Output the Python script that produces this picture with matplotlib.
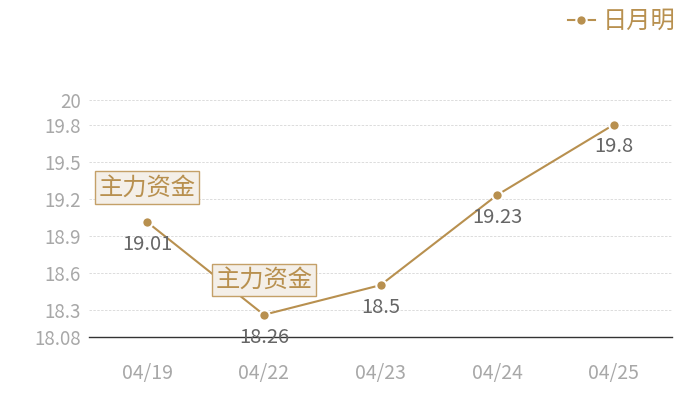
import matplotlib
matplotlib.use("Agg")
import matplotlib.pyplot as plt

plt.rcParams['font.family'] = ['Noto Sans CJK SC', 'DejaVu Sans']

dates = ["04/19", "04/22", "04/23", "04/24", "04/25"]
prices = [19.01, 18.26, 18.5, 19.23, 19.8]
flags = ["主力资金", "主力资金", "", "", ""]
yticks = [18.08, 18.3, 18.6, 18.9, 19.2, 19.5, 19.8, 20]
series_name = "日月明"

gold = "#b8904f"
grey_tick = "#a8a8a8"
grey_val = "#666666"

fig = plt.figure(figsize=(7, 4), dpi=100)
ax = fig.add_axes([89 / 700, 63 / 400, (672 - 89) / 700, (337 - 100) / 400])

x = list(range(len(dates)))
line, = ax.plot(x, prices, color=gold, lw=1.5, marker="o", ms=7.5,
                mfc=gold, mec="white", mew=1.5, label=series_name, zorder=3)

for i, (v, f) in enumerate(zip(prices, flags)):
    ax.annotate(f"{v:g}", (i, v), xytext=(0, -16), textcoords="offset points",
                ha="center", va="center", fontsize=14.5, color=grey_val, zorder=4)
    if f:
        ax.annotate(f, (i, v), xytext=(0, 25), textcoords="offset points",
                    ha="center", va="center", fontsize=17.5, color=gold, zorder=5,
                    bbox=dict(boxstyle="square,pad=0.14", fc="#f4efe8", ec="#c4a068", lw=1))

ax.set_xlim(-0.5, len(dates) - 0.5)
ax.set_ylim(18.08, 20)
ax.set_xticks(x)
ax.set_xticklabels(dates)
ax.set_yticks(yticks)
ax.set_yticklabels([f"{t:g}" for t in yticks])
ax.tick_params(axis="x", length=0, pad=19, labelsize=14, labelcolor=grey_tick)
ax.tick_params(axis="y", length=0, pad=6, labelsize=13.5, labelcolor=grey_tick)
ax.grid(axis="y", color="#dcdcdc", ls=(0, (2.5, 1.5)), lw=0.7)
ax.set_axisbelow(True)
for s in ["top", "right", "left"]:
    ax.spines[s].set_visible(False)
ax.spines["bottom"].set_color("#333333")
ax.spines["bottom"].set_linewidth(1)

leg = fig.legend(handles=[line], loc="upper right", bbox_to_anchor=(0.983, 1.01),
                 frameon=False, fontsize=17.5, handlelength=1.1, handletextpad=0.35,
                 borderaxespad=0.1)
for t in leg.get_texts():
    t.set_color(gold)

fig.savefig("out.png", dpi=100)
